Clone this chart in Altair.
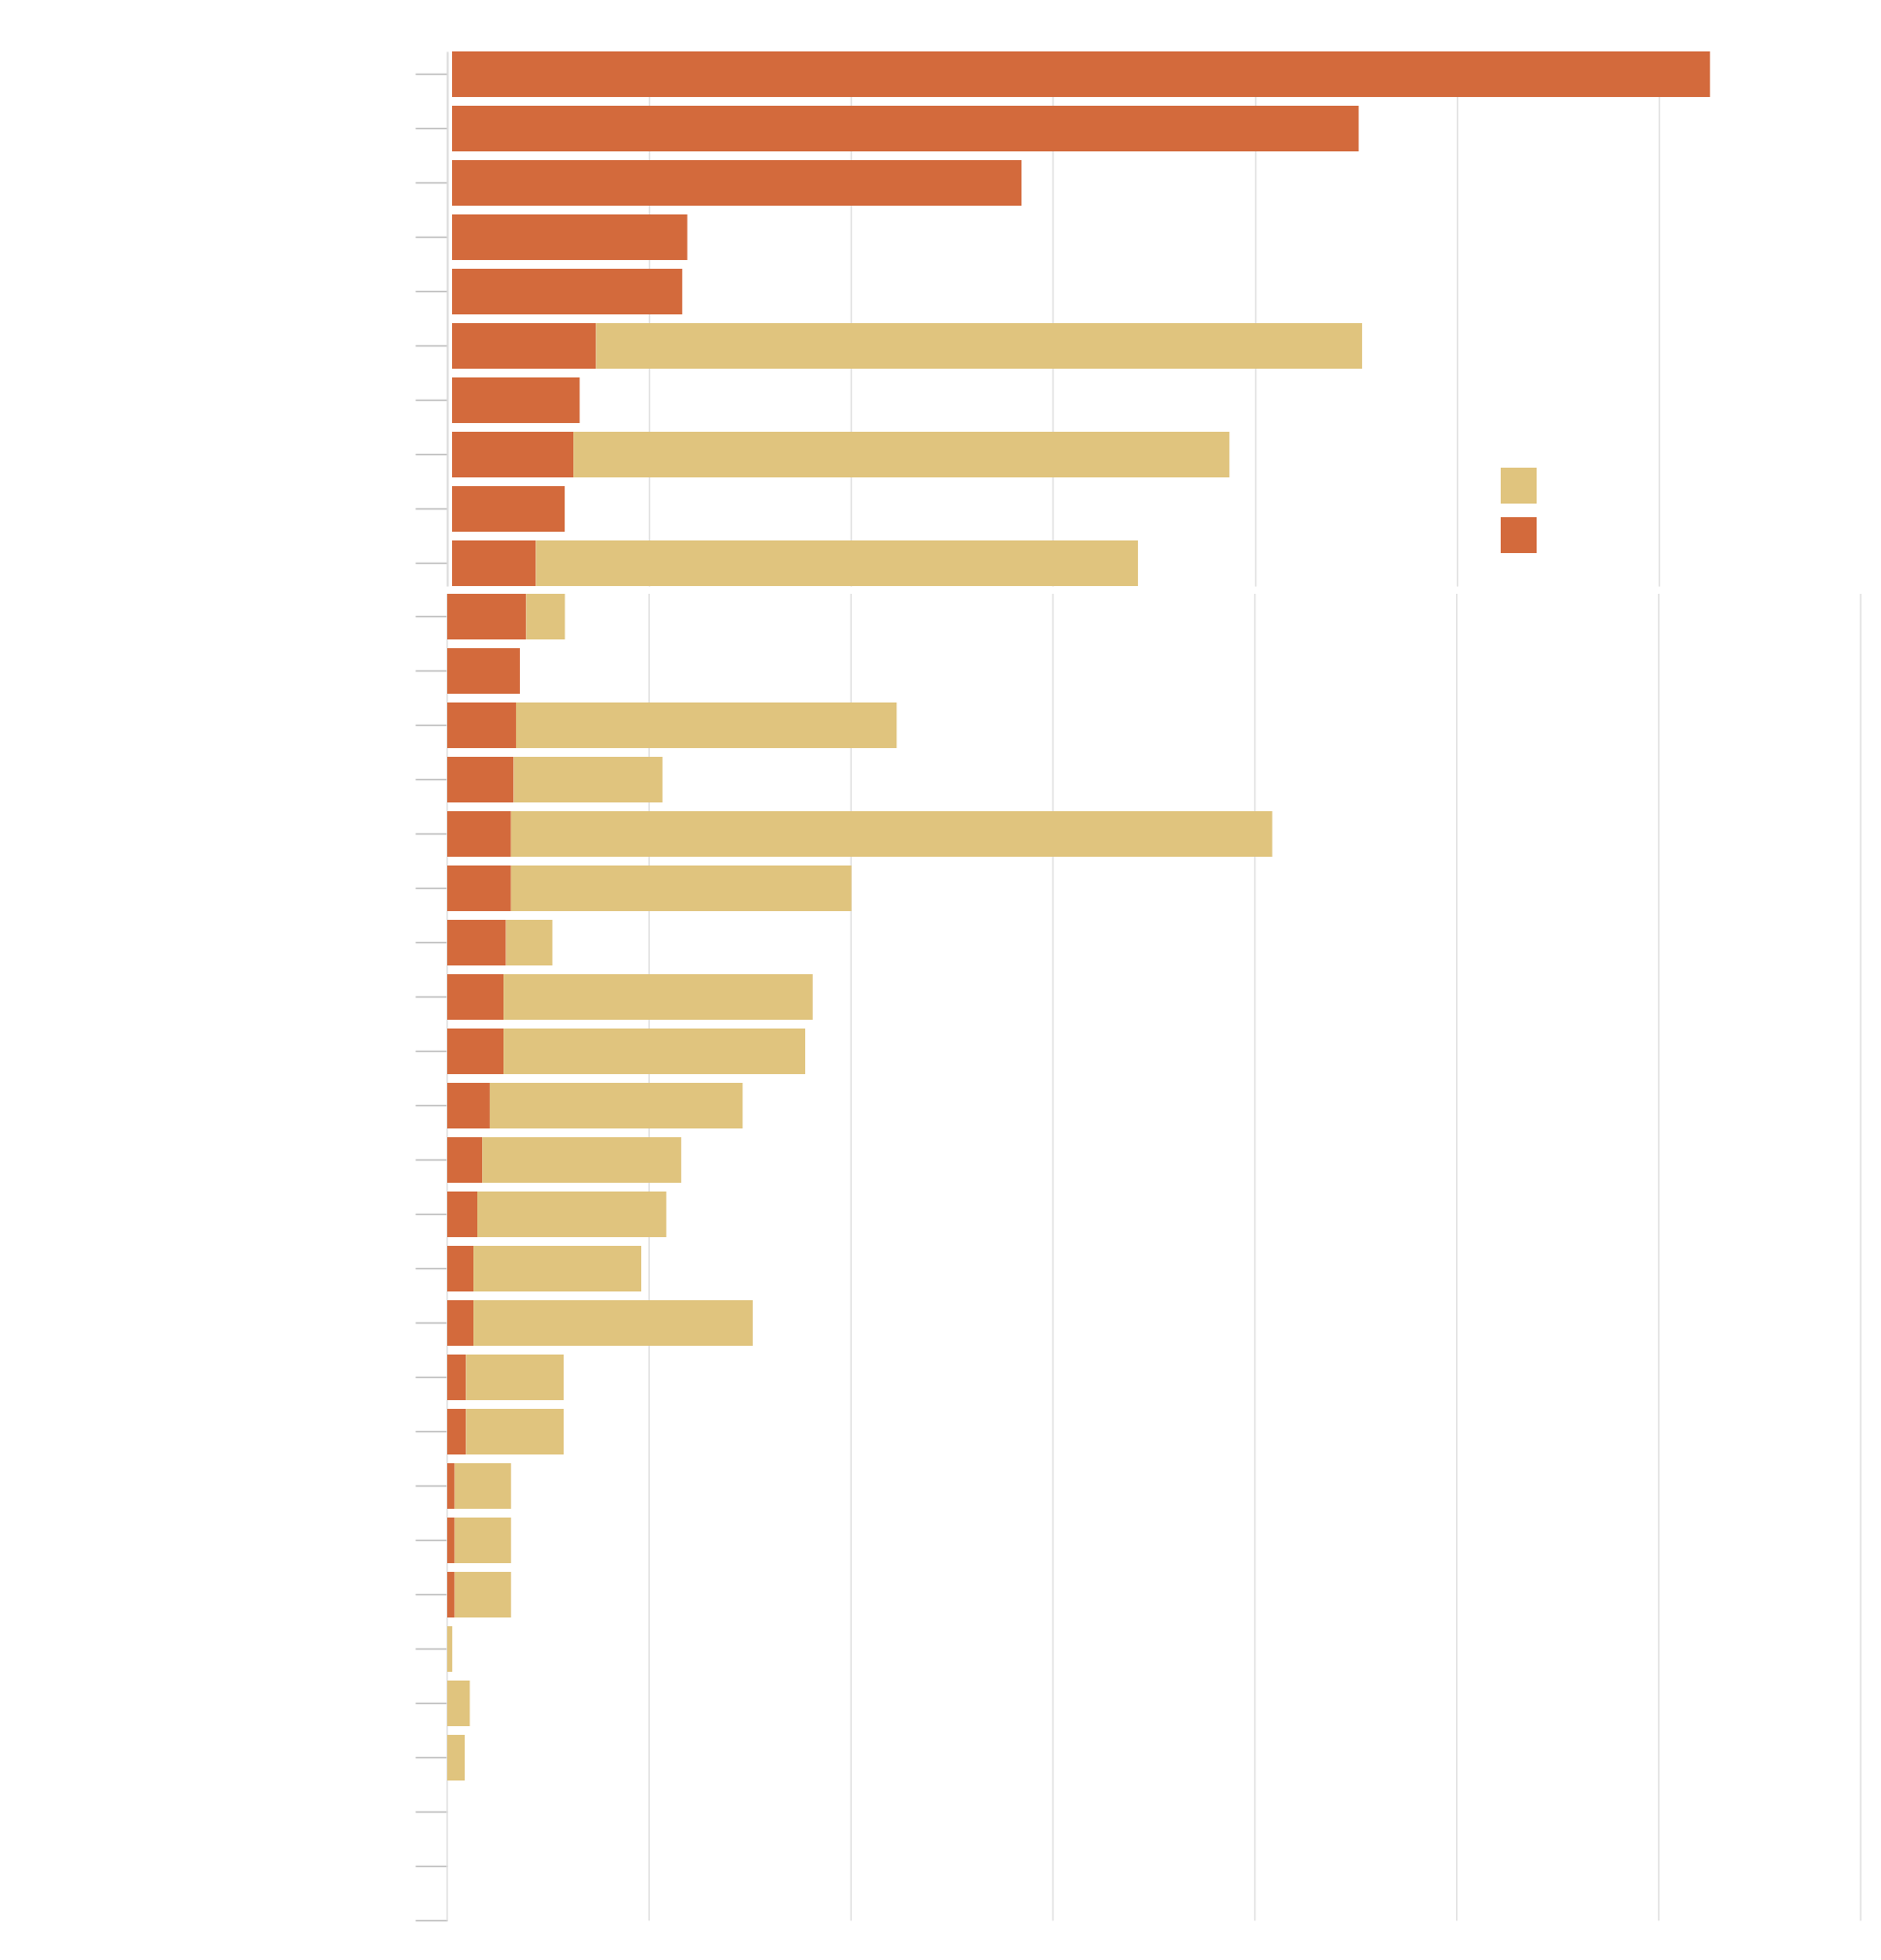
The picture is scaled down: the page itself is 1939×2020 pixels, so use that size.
import altair as alt
import pandas as pd

categories = [
    "Category 01", "Category 02", "Category 03", "Category 04", "Category 05",
    "Category 06", "Category 07", "Category 08", "Category 09", "Category 10",
    "Category 11", "Category 12", "Category 13", "Category 14", "Category 15",
    "Category 16", "Category 17", "Category 18", "Category 19", "Category 20",
    "Category 21", "Category 22", "Category 23", "Category 24", "Category 25",
    "Category 26", "Category 27", "Category 28", "Category 29", "Category 30",
    "Category 31", "Category 32", "Category 33", "Category 34", "Category 35",
]
series_names = ["Series B", "Series A"]  # legend order: yellow first, orange second
orange_vals = [6230, 4490, 2820, 1165, 1140, 713, 632, 601, 558, 415,
               391, 360, 341, 329, 316, 316, 291, 279, 279, 211,
               174, 149, 130, 130, 93, 93, 37, 37, 37, 0,
               0, 0, 0, 0, 0]
yellow_vals = [0, 0, 0, 0, 0, 3794, 0, 3249, 0, 2982,
               192, 0, 1885, 737, 3770, 1686, 230, 1531, 1494, 1252,
               985, 936, 831, 1383, 484, 484, 279, 279, 279, 25,
               112, 87, 0, 0, 0]
x_ticks_top = [0, 1000, 2000, 3000, 4000, 5000, 6000]
x_ticks_bottom = [0, 1000, 2000, 3000, 4000, 5000, 6000, 7000]

ORANGE = "#D36A3C"
YELLOW = "#E0C47E"

rows = []
for i, c in enumerate(categories):
    rows.append({"category": c, "series": series_names[1], "value": orange_vals[i], "ord": 0, "idx": i})
    rows.append({"category": c, "series": series_names[0], "value": yellow_vals[i], "ord": 1, "idx": i})
df = pd.DataFrame(rows)
df_top = df[df["idx"] < 10]
df_bot = df[df["idx"] >= 10]
df_grid = pd.DataFrame({"tick": x_ticks_bottom})

color_scale = alt.Scale(domain=series_names, range=[YELLOW, ORANGE])
x_scale = alt.Scale(domain=[0, 7000], nice=False)


def y_axis(domain=True):
    return alt.Axis(
        title=None, labelColor="white", labelFontSize=14, tickSize=33, tickColor="#bdbdbd",
        tickWidth=1.5, domain=domain, domainColor="#dcdcdc", domainWidth=2,
        minExtent=448, maxExtent=448, labelPadding=6, grid=False,
    )


top = alt.Chart(df_top).mark_bar(xOffset=5, x2Offset=5).encode(
    x=alt.X("value:Q", stack="zero", scale=x_scale,
            axis=alt.Axis(values=x_ticks_top[1:], labels=False, ticks=False, domain=False,
                          title=None, grid=True, gridColor="#e0e0e0", gridWidth=1.5,
                          minExtent=0, maxExtent=0)),
    y=alt.Y("category:N", sort=categories[:10],
            scale=alt.Scale(domain=categories[:10], paddingInner=0.16, paddingOuter=0),
            axis=y_axis()),
    color=alt.Color("series:N", scale=color_scale,
                    legend=alt.Legend(orient="none", legendX=1086, legendY=429, title=None,
                                      symbolType="square", symbolSize=1369, symbolStrokeWidth=0,
                                      labelColor="white", labelFontSize=20, rowPadding=14,
                                      labelOffset=12)),
    order=alt.Order("ord:Q"),
).properties(width=1457, height=551)

bottom_y_scale = alt.Scale(domain=categories[10:], paddingInner=0.16, paddingOuter=0)

grid_rules = alt.Chart(df_grid).mark_rule(color="#e0e0e0", strokeWidth=1.5).encode(
    x=alt.X("tick:Q", scale=x_scale,
            axis=alt.Axis(values=x_ticks_bottom, labelColor="white", ticks=False, domain=False,
                          title=None, grid=False)),
    y=alt.Y(datum=categories[10], bandPosition=0, scale=bottom_y_scale, axis=y_axis(False)),
    y2=alt.Y2(datum=categories[-1], bandPosition=0.5),
)

bars = alt.Chart(df_bot).mark_bar().encode(
    x=alt.X("value:Q", stack="zero", scale=x_scale),
    y=alt.Y("category:N", sort=categories[10:], scale=bottom_y_scale, axis=y_axis(False)),
    color=alt.Color("series:N", scale=color_scale, legend=None),
    order=alt.Order("ord:Q"),
)

bottom = alt.layer(grid_rules, bars).properties(width=1457, height=1391)

chart = alt.vconcat(top, bottom, spacing=7).resolve_legend(color="independent").properties(
    padding={"left": 5, "top": 45, "right": 5, "bottom": 5},
    background="white",
).configure_view(stroke=None)

chart.save("out.html", embed_options={"renderer": "svg", "actions": False})
